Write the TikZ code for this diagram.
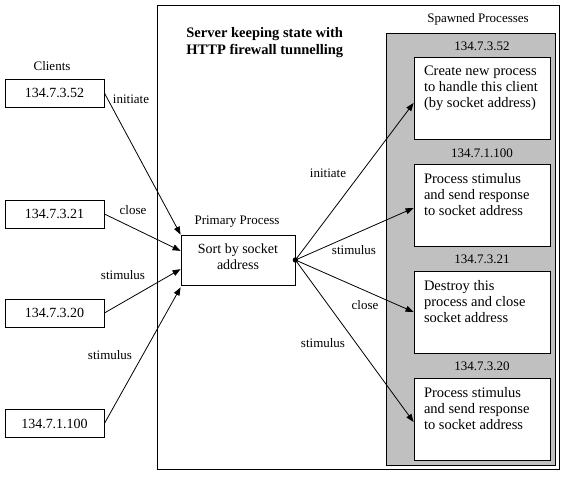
\documentclass[tikz,border=0pt]{standalone}
\usepackage{fontspec}
\setmainfont{Liberation Serif}
\usetikzlibrary{arrows.meta,calc}
\begin{document}
\begin{tikzpicture}[x=1pt,y=-1pt,
  line width=0.8pt,
  box/.style={draw,fill=white,inner sep=0pt,font=\fontsize{14}{16}\selectfont},
  lbl/.style={inner sep=0pt,font=\fontsize{13}{15}\selectfont},
  ptext/.style={inner sep=0pt,anchor=north west,align=left,font=\fontsize{14.5}{16}\selectfont},
  arr/.style={-{Triangle[length=8pt,width=6pt]}},
  pbox/.style={draw,fill=white,minimum width=136pt,minimum height=82pt,inner sep=0pt}
]
\useasboundingbox (0,0) rectangle (566,477);
% server frame
\draw (157,5) rectangle (559,469);
\draw[fill={rgb,255:red,192;green,192;blue,192}] (386,33) rectangle (555,465);
% title
\node[inner sep=0pt,anchor=north west,align=left,font=\bfseries\fontsize{14.5}{17}\selectfont] (title) at (186,27) {Server keeping state with\\HTTP firewall tunnelling};
\node[lbl] (spawn) at (478,19) {Spawned Processes};
% clients
\node[lbl] (clients) at (52,66) {Clients};
\node[box,minimum width=99pt,minimum height=28pt] (c1) at (54.5,93) {134.7.3.52};
\node[box,minimum width=99pt,minimum height=28pt] (c2) at (54.5,214) {134.7.3.21};
\node[box,minimum width=99pt,minimum height=28pt] (c3) at (54.5,313) {134.7.3.20};
\node[box,minimum width=99pt,minimum height=28pt] (c4) at (54.5,423.5) {134.7.1.100};
% primary
\node[lbl] (pplbl) at (237,222) {Primary Process};
\node[box,minimum width=114pt,minimum height=50pt] (pp) at (238,260) {};
\node[inner sep=0pt,align=center,font=\fontsize{14}{16}\selectfont] (pptext) at ($(pp.center)+(0,-3)$) {Sort by socket\\address};
\fill (pp.east) circle (2.7pt);
% spawned
\node[lbl] (a1) at (482,46) {134.7.3.52};
\node[pbox] (p1) at (482,98) {};
\node[ptext] (t1) at ($(p1.north west)+(10,9)$) {Create new process\\to handle this client\\(by socket address)};
\node[lbl] (a2) at (482,153) {134.7.1.100};
\node[pbox] (p2) at (482,205.5) {};
\node[ptext] (t2) at ($(p2.north west)+(10,9)$) {Process stimulus\\and send response\\to socket address};
\node[lbl] (a3) at (482,259) {134.7.3.21};
\node[pbox] (p3) at (482,312) {};
\node[ptext] (t3) at ($(p3.north west)+(10,9)$) {Destroy this\\process and close\\socket address};
\node[lbl] (a4) at (482,366) {134.7.3.20};
\node[pbox] (p4) at (482,419) {};
\node[ptext] (t4) at ($(p4.north west)+(10,9)$) {Process stimulus\\and send response\\to socket address};
% client arrows
\draw[arr] (c1.east) -- (pp.north west);
\draw[arr] (c2.east) -- ($(pp.north west)!0.32!(pp.south west)$);
\draw[arr] (c3.east) -- ($(pp.north west)!0.68!(pp.south west)$);
\draw[arr] (c4.east) -- ($(pp.south west)+(0,2)$);
\node[lbl] (l1) at (131,99) {initiate};
\node[lbl] (l2) at (133,210) {close};
\node[lbl] (l3) at (123,275) {stimulus};
\node[lbl] (l4) at (110,355) {stimulus};
% spawned arrows
\draw[arr] (pp.east) -- ($(p1.west)+(0,5)$);
\draw[arr] (pp.east) -- ($(p2.west)+(0,2.5)$);
\draw[arr] (pp.east) -- (p3.west);
\draw[arr] (pp.east) -- ($(p4.west)+(0,3)$);
\node[lbl] (r1) at (328,173) {initiate};
\node[lbl] (r2) at (354,250) {stimulus};
\node[lbl] (r3) at (365,305) {close};
\node[lbl] (r4) at (323,343) {stimulus};
\end{tikzpicture}
\end{document}
